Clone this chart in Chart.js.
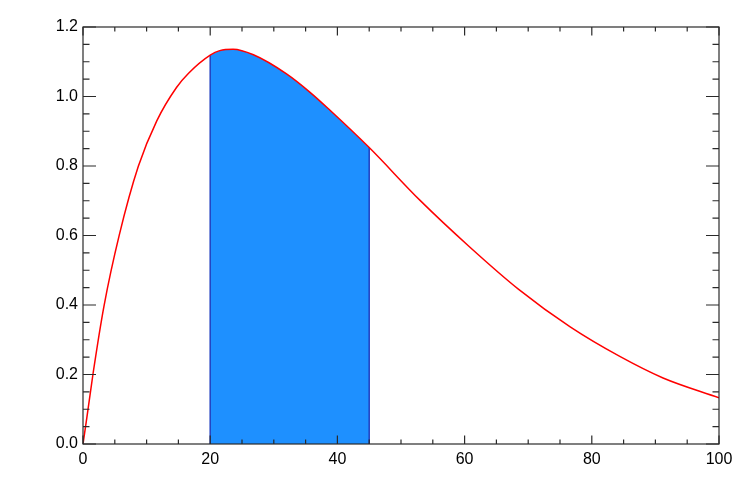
<!DOCTYPE html>
<html>
<head>
<meta charset="utf-8">
<script src="https://cdn.jsdelivr.net/npm/chart.js@4"></script>
<style>
  body { margin: 0; background: #fff; }
  canvas { display: block; }
</style>
</head>
<body>
<canvas id="chart" width="742" height="495"></canvas>
<script>
// values
const xValues = [0, 0.6, 1.6, 3.3, 5.7, 8.7, 11.6, 14.7, 16.6, 20, 21.5, 23.6, 26.8, 32, 35.7, 38.8, 45, 53, 60.8, 68.5, 76.6, 84.4, 91.2, 100];
const yValues = [0, 0.075, 0.205, 0.397, 0.601, 0.799, 0.93, 1.026, 1.067, 1.119, 1.132, 1.136, 1.12, 1.065, 1.012, 0.961, 0.853, 0.701, 0.567, 0.445, 0.337, 0.252, 0.19, 0.133];
const shadeFrom = 20;
const shadeTo = 45;
const xTicks = [0, 20, 40, 60, 80, 100];
const yTicks = [0, 0.2, 0.4, 0.6, 0.8, 1.0, 1.2];
const minorPerMajor = 4;

const curve = xValues.map((x, i) => ({ x: x, y: yValues[i] }));
const shaded = curve.filter(p => p.x >= shadeFrom && p.x <= shadeTo);
const edge = x => {
    const p = curve.find(q => q.x === x);
    return [{ x: x, y: 0 }, { x: x, y: p.y }];
};

const FONT = { family: 'Liberation Sans, Arial, Helvetica, sans-serif', size: 16 };

// IDL style box with inward major/minor ticks on all four sides
const boxTicks = {
    id: 'boxTicks',
    afterDraw(chart) {
        const { ctx, chartArea: a, scales: { x, y } } = chart;
        ctx.save();
        ctx.strokeStyle = '#2a2a2a';
        ctx.lineWidth = 1.2;
        ctx.strokeRect(a.left, a.top, a.right - a.left, a.bottom - a.top);
        ctx.beginPath();
        for (let i = 0; i < xTicks.length; i++) {
            const step = i < xTicks.length - 1 ? (xTicks[i + 1] - xTicks[i]) / minorPerMajor : 0;
            const n = i < xTicks.length - 1 ? minorPerMajor : 1;
            for (let k = 0; k < n; k++) {
                const px = x.getPixelForValue(xTicks[i] + k * step);
                const len = k === 0 ? 8.5 : 4.5;
                ctx.moveTo(px, a.bottom); ctx.lineTo(px, a.bottom - len);
                ctx.moveTo(px, a.top); ctx.lineTo(px, a.top + len);
            }
        }
        for (let i = 0; i < yTicks.length; i++) {
            const step = i < yTicks.length - 1 ? (yTicks[i + 1] - yTicks[i]) / minorPerMajor : 0;
            const n = i < yTicks.length - 1 ? minorPerMajor : 1;
            for (let k = 0; k < n; k++) {
                const py = y.getPixelForValue(yTicks[i] + k * step);
                const len = k === 0 ? 13 : 6.5;
                ctx.moveTo(a.left, py); ctx.lineTo(a.left + len, py);
                ctx.moveTo(a.right, py); ctx.lineTo(a.right - len, py);
            }
        }
        ctx.stroke();
        ctx.restore();
    }
};

new Chart(document.getElementById('chart'), {
    type: 'line',
    data: {
        datasets: [
            {
                data: curve,
                borderColor: '#ff0000',
                borderWidth: 1.5,
                cubicInterpolationMode: 'monotone',
                pointRadius: 0,
                fill: false
            },
            {
                data: edge(shadeFrom),
                borderColor: '#1f3fc0',
                borderWidth: 1.5,
                pointRadius: 0,
                fill: false
            },
            {
                data: edge(shadeTo),
                borderColor: '#1f3fc0',
                borderWidth: 1.5,
                pointRadius: 0,
                fill: false
            },
            {
                data: shaded,
                borderColor: 'rgba(0,0,0,0)',
                borderWidth: 0,
                backgroundColor: '#1e90ff',
                cubicInterpolationMode: 'monotone',
                pointRadius: 0,
                fill: 'origin'
            }
        ]
    },
    options: {
        responsive: false,
        animation: false,
        layout: { padding: { left: 0, top: 27, right: 23, bottom: 0 } },
        plugins: { legend: { display: false }, tooltip: { enabled: false } },
        scales: {
            x: {
                type: 'linear',
                min: 0,
                max: 100,
                afterBuildTicks: s => { s.ticks = xTicks.map(v => ({ value: v })); },
                afterFit: s => { s.height = 51; },
                grid: { display: false, drawTicks: false },
                border: { display: false },
                ticks: { color: '#000', font: FONT, padding: 6, maxRotation: 0, callback: v => String(v) }
            },
            y: {
                type: 'linear',
                min: 0,
                max: 1.2,
                afterBuildTicks: s => { s.ticks = yTicks.map(v => ({ value: v })); },
                afterFit: s => { s.width = 83; },
                grid: { display: false, drawTicks: false },
                border: { display: false },
                ticks: { color: '#000', font: FONT, padding: 5, callback: v => v.toFixed(1) }
            }
        }
    },
    plugins: [boxTicks]
});
</script>
</body>
</html>
